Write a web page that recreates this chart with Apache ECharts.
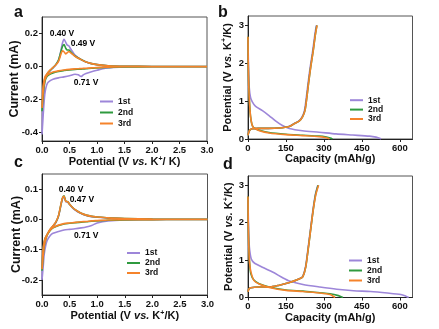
<!DOCTYPE html>
<html>
<head>
<meta charset="utf-8">
<script src="https://cdn.jsdelivr.net/npm/echarts@6/dist/echarts.min.js"></script>
<style>
  html, body { margin: 0; padding: 0; background: #fff; }
  #chart { width: 439px; height: 329px; }
</style>
</head>
<body>
<div id="chart"></div>
<script>
// ---------- Cyclic voltammetry, electrode a (E in V, I in mA) ----------
const cvA_cathE = [3.0, 2.5, 2.0, 1.5, 1.3, 1.15, 1.0, 0.9, 0.8, 0.75, 0.71, 0.66, 0.6, 0.5, 0.4, 0.3, 0.2, 0.15, 0.1, 0.07, 0.05, 0.03, 0.015, 0.0];
const cvA_1st_cath = [0, 0, -0.001, -0.002, -0.005, -0.01, -0.022, -0.031, -0.042, -0.05, -0.06, -0.05, -0.046, -0.055, -0.062, -0.068, -0.076, -0.085, -0.1, -0.13, -0.17, -0.25, -0.33, -0.41];
const cvA_2nd_cath = [0, 0, -0.001, -0.002, -0.003, -0.005, -0.008, -0.01, -0.013, -0.014, -0.015, -0.016, -0.017, -0.02, -0.024, -0.029, -0.038, -0.045, -0.056, -0.072, -0.095, -0.14, -0.2, -0.27];
const cvA_3rd_cath = [0, 0, -0.001, -0.001, -0.002, -0.004, -0.006, -0.008, -0.01, -0.011, -0.012, -0.013, -0.014, -0.017, -0.021, -0.026, -0.033, -0.04, -0.05, -0.065, -0.085, -0.125, -0.18, -0.25];
const cvA_anodE = [0, 0.01, 0.02, 0.04, 0.06, 0.1, 0.15, 0.2, 0.25, 0.3, 0.34, 0.37, 0.40, 0.43, 0.46, 0.49, 0.52, 0.56, 0.6, 0.7, 0.8, 0.9, 1.0, 1.2, 1.5, 2.0, 3.0];
const cvA_1st_anod = [-0.41, -0.3, -0.2, -0.12, -0.075, -0.045, -0.025, -0.008, 0.01, 0.036, 0.09, 0.14, 0.165, 0.148, 0.13, 0.125, 0.108, 0.088, 0.07, 0.045, 0.028, 0.018, 0.012, 0.005, 0.002, 0.001, 0];
const cvA_2nd_anod = [-0.27, -0.2, -0.14, -0.09, -0.065, -0.042, -0.022, -0.006, 0.012, 0.04, 0.085, 0.12, 0.133, 0.112, 0.1, 0.1, 0.09, 0.076, 0.064, 0.044, 0.028, 0.018, 0.012, 0.005, 0.002, 0.001, 0];
const cvA_3rd_anod = [-0.25, -0.18, -0.12, -0.08, -0.058, -0.038, -0.02, -0.005, 0.01, 0.032, 0.07, 0.095, 0.09, 0.077, 0.085, 0.091, 0.084, 0.074, 0.062, 0.044, 0.028, 0.018, 0.012, 0.005, 0.002, 0.001, 0];
// peak notes: [text, potential, current]
const cvA_notes = [['0.40 V', 0.40, 0.165], ['0.49 V', 0.49, 0.125], ['0.71 V', 0.71, -0.06]];

// ---------- Cyclic voltammetry, electrode c ----------
const cvC_cathE = [3.0, 2.5, 2.0, 1.5, 1.2, 1.0, 0.9, 0.8, 0.71, 0.6, 0.5, 0.4, 0.3, 0.2, 0.15, 0.1, 0.07, 0.04, 0.02, 0.0];
const cvC_1st_cath = [0, 0, -0.001, -0.002, -0.005, -0.012, -0.02, -0.025, -0.028, -0.031, -0.033, -0.035, -0.04, -0.046, -0.053, -0.067, -0.084, -0.116, -0.16, -0.2];
const cvC_2nd_cath = [0, 0, -0.001, -0.002, -0.003, -0.005, -0.006, -0.008, -0.009, -0.011, -0.013, -0.015, -0.02, -0.028, -0.036, -0.05, -0.065, -0.09, -0.125, -0.17];
const cvC_3rd_cath = [0, 0, -0.001, -0.001, -0.002, -0.004, -0.005, -0.007, -0.008, -0.01, -0.012, -0.014, -0.019, -0.027, -0.035, -0.049, -0.064, -0.088, -0.122, -0.165];
const cvC_anodE = [0, 0.01, 0.02, 0.04, 0.06, 0.1, 0.15, 0.2, 0.25, 0.3, 0.34, 0.37, 0.40, 0.43, 0.47, 0.5, 0.55, 0.6, 0.7, 0.8, 0.9, 1.0, 1.2, 1.5, 2.0, 3.0];
const cvC_1st_anod = [-0.2, -0.14, -0.105, -0.078, -0.063, -0.049, -0.034, -0.023, -0.011, 0.011, 0.044, 0.067, 0.074, 0.059, 0.056, 0.049, 0.039, 0.031, 0.02, 0.013, 0.009, 0.007, 0.004, 0.002, 0.001, 0];
const cvC_2nd_anod = [-0.17, -0.13, -0.1, -0.075, -0.062, -0.048, -0.033, -0.022, -0.01, 0.012, 0.046, 0.07, 0.078, 0.061, 0.058, 0.05, 0.04, 0.032, 0.021, 0.014, 0.01, 0.008, 0.005, 0.003, 0.001, 0];
const cvC_3rd_anod = [-0.165, -0.128, -0.098, -0.074, -0.061, -0.047, -0.032, -0.021, -0.009, 0.013, 0.047, 0.07, 0.076, 0.06, 0.058, 0.05, 0.04, 0.032, 0.021, 0.014, 0.01, 0.008, 0.005, 0.003, 0.001, 0];
const cvC_notes = [['0.40 V', 0.40, 0.078], ['0.47 V', 0.47, 0.058], ['0.71 V', 0.71, -0.028]];

// ---------- Galvanostatic profiles, electrode b (capacity mAh/g, potential V) ----------
const gcdB_1st_disQ = [0, 2, 5, 10, 17, 30, 57, 83, 110, 136, 163, 215, 281, 348, 414, 480, 506, 520, 526];
const gcdB_1st_disV = [2.65, 1.9, 1.35, 1.1, 0.98, 0.86, 0.75, 0.62, 0.47, 0.355, 0.28, 0.22, 0.18, 0.135, 0.105, 0.075, 0.05, 0.02, 0];
const gcdB_2nd_disQ = [0, 1, 3, 6, 10, 15, 20, 30, 45, 83, 150, 215, 281, 310, 325, 334];
const gcdB_2nd_disV = [2.7, 2.0, 1.4, 0.95, 0.6, 0.4, 0.32, 0.27, 0.23, 0.17, 0.125, 0.1, 0.075, 0.05, 0.025, 0];
const gcdB_3rd_disQ = [0, 1, 3, 6, 10, 15, 20, 30, 45, 83, 150, 215, 281, 305, 316, 322];
const gcdB_3rd_disV = [2.7, 2.0, 1.4, 0.95, 0.6, 0.4, 0.32, 0.27, 0.22, 0.16, 0.115, 0.09, 0.062, 0.04, 0.02, 0];
const gcdB_chgV = [0.1, 0.18, 0.24, 0.27, 0.28, 0.28, 0.29, 0.33, 0.4, 0.47, 0.58, 0.75, 1.02, 1.46, 1.91, 2.35, 2.75, 3.0];
const gcdB_1st_chgQ = [0, 3, 8, 17, 40, 80, 122, 161, 180, 200, 213, 223, 229, 237, 246, 256, 264, 270];
const gcdB_2nd_chgQ = [0, 3, 8, 17, 40, 80, 123, 163, 182, 202, 215, 225, 231, 239, 248, 258, 266, 272];
const gcdB_3rd_chgQ = [0, 3, 8, 17, 40, 80, 123, 163, 182, 202, 215, 225, 231, 239, 248, 258, 266, 273];

// ---------- Galvanostatic profiles, electrode d ----------
const gcdD_1st_disQ = [0, 2, 4, 7, 13, 24, 57, 97, 137, 164, 217, 284, 351, 417, 484, 551, 604, 624, 635];
const gcdD_1st_disV = [2.65, 1.9, 1.5, 1.25, 1.03, 0.93, 0.81, 0.68, 0.53, 0.44, 0.35, 0.28, 0.22, 0.18, 0.16, 0.12, 0.08, 0.035, 0];
const gcdD_2nd_disQ = [0, 1, 3, 6, 11, 24, 44, 84, 151, 217, 284, 324, 357, 375];
const gcdD_2nd_disV = [2.7, 2.0, 1.4, 0.95, 0.64, 0.46, 0.37, 0.28, 0.2, 0.17, 0.125, 0.1, 0.05, 0];
const gcdD_3rd_disQ = [0, 1, 3, 6, 11, 24, 44, 84, 151, 217, 284, 324, 340, 344];
const gcdD_3rd_disV = [2.7, 2.0, 1.4, 0.95, 0.7, 0.45, 0.36, 0.27, 0.19, 0.16, 0.12, 0.08, 0.02, 0];
const gcdD_chgV = [0.15, 0.22, 0.26, 0.28, 0.28, 0.33, 0.4, 0.5, 0.56, 0.81, 1.25, 1.78, 2.31, 2.75, 3.0];
const gcdD_1st_chgQ = [0, 3, 11, 44, 84, 124, 164, 203, 216, 227, 236, 246, 256, 266, 276];
const gcdD_2nd_chgQ = [0, 3, 11, 44, 84, 124, 164, 204, 217, 228, 237, 247, 257, 267, 277];
const gcdD_3rd_chgQ = [0, 3, 11, 44, 84, 124, 164, 204, 217, 228, 237, 247, 257, 268, 279];

// ---------- Axis ticks ----------
const cvPotTicks = [0, 0.5, 1.0, 1.5, 2.0, 2.5, 3.0];
const cvA_curTicks = [-0.4, -0.2, 0.0, 0.2];
const cvC_curTicks = [-0.2, -0.1, 0.0, 0.1];
const capTicks = [0, 150, 300, 450, 600];
const potTicks = [0, 1, 2, 3];
const cycles = ['1st', '2nd', '3rd'];

// ---------- styling ----------
const FONT = '"Liberation Sans", Arial, Helvetica, sans-serif';
const COLORS = { '1st': '#9d86d9', '2nd': '#2f9a3f', '3rd': '#f5832b' };

const pairs = (xs, ys) => xs.map((x, i) => [x, ys[i]]);
const loop = (ce, ci, ae, ai) => pairs(ce, ci).concat(pairs(ae, ai));

function curve(name, data, gi) {
  const c = COLORS[name];
  return {
    type: 'line', name, xAxisIndex: gi, yAxisIndex: gi, data,
    symbol: 'none', showSymbol: false, smooth: 0.25,
    lineStyle: { color: c, width: 1.6 }, itemStyle: { color: c },
    animation: false, emphasis: { disabled: true }
  };
}

// text notes anchored at the peak they describe
function notes(list, offsets, gi) {
  return {
    type: 'scatter', name: 'notes' + gi, xAxisIndex: gi, yAxisIndex: gi,
    symbol: 'circle', symbolSize: 1, itemStyle: { color: 'rgba(0,0,0,0)' },
    animation: false, silent: true, z: 5,
    label: { show: true, position: 'inside', formatter: '{b}', color: '#000', opacity: 1,
             textBorderWidth: 0, fontFamily: FONT, fontWeight: 'bold', fontSize: 8.5 },
    data: list.map((n, i) => ({ value: [n[1], n[2]], name: n[0], label: { offset: offsets[i], color: '#000' } }))
  };
}

function richName(size) {
  const base = { fontFamily: FONT, fontWeight: 'bold', fontSize: size, color: '#111', lineHeight: size + 2 };
  return {
    fontFamily: FONT, fontWeight: 'bold', fontSize: size, color: '#111',
    rich: {
      i: Object.assign({}, base, { fontStyle: 'italic' }),
      sup: Object.assign({}, base, { fontSize: Math.round(size * 0.62), verticalAlign: 'top', lineHeight: size + 2 })
    }
  };
}

function axis(gi, opts) {
  return Object.assign({
    type: 'value', gridIndex: gi, nameLocation: 'middle',
    axisLine: { show: true, onZero: false, lineStyle: { color: '#222', width: 1 } },
    axisTick: { show: true, inside: false, length: 3, lineStyle: { color: '#222' }, customValues: opts.ticks },
    axisLabel: { color: '#111', fontFamily: FONT, fontWeight: 'bold', fontSize: 9.5, margin: 4,
                 customValues: opts.ticks, formatter: opts.fmt },
    splitLine: { show: false }
  }, opts.extra);
}

const f1 = v => Number(v).toFixed(1);
const f0 = v => String(Math.round(v));

const grids = [
  { left: 42, top: 17, width: 165, height: 124 },
  { left: 248, top: 16, width: 164.5, height: 123 },
  { left: 42, top: 174, width: 165.5, height: 121 },
  { left: 248, top: 176, width: 164.5, height: 121.5 }
].map(g => Object.assign(g, { show: true, borderColor: '#555', borderWidth: 1, containLabel: false }));

const xAxes = [
  axis(0, { ticks: cvPotTicks, fmt: f1, extra: { min: 0, max: 3, name: 'Potential (V {i|vs.} K{sup|+}/ K)', nameGap: 7, nameTextStyle: richName(11) } }),
  axis(1, { ticks: capTicks, fmt: f0, extra: { min: 0, max: 650, name: 'Capacity (mAh/g)', nameGap: 7.5, nameTextStyle: richName(11) } }),
  axis(2, { ticks: cvPotTicks, fmt: f1, extra: { min: 0, max: 3, name: 'Potential (V {i|vs.} K{sup|+}/K)', nameGap: 9, nameTextStyle: richName(11) } }),
  axis(3, { ticks: capTicks, fmt: f0, extra: { min: 0, max: 650, name: 'Capacity (mAh/g)', nameGap: 10, nameTextStyle: richName(11) } })
];
const yAxes = [
  axis(0, { ticks: cvA_curTicks, fmt: f1, extra: { min: -0.45, max: 0.3, name: 'Current (mA)', nameGap: 21, nameMoveOverlap: false, nameTextStyle: richName(12.5) } }),
  axis(1, { ticks: potTicks, fmt: f0, extra: { min: 0, max: 3.25, name: 'Potential (V {i|vs.} K{sup|+}/K)', nameGap: 14, nameMoveOverlap: false, nameTextStyle: richName(11) } }),
  axis(2, { ticks: cvC_curTicks, fmt: f1, extra: { min: -0.25, max: 0.15, name: 'Current (mA)', nameGap: 19, nameMoveOverlap: false, nameTextStyle: richName(12.5) } }),
  axis(3, { ticks: potTicks, fmt: f0, extra: { min: 0, max: 3.25, name: 'Potential (V {i|vs.} K{sup|+}/K)', nameGap: 12.5, nameMoveOverlap: false, nameTextStyle: richName(11) } })
];

const series = [
  curve('1st', loop(cvA_cathE, cvA_1st_cath, cvA_anodE, cvA_1st_anod), 0),
  curve('2nd', loop(cvA_cathE, cvA_2nd_cath, cvA_anodE, cvA_2nd_anod), 0),
  curve('3rd', loop(cvA_cathE, cvA_3rd_cath, cvA_anodE, cvA_3rd_anod), 0),
  notes(cvA_notes, [[-2, -6], [14, -2], [5, 6]], 0),

  curve('1st', pairs(gcdB_1st_disQ, gcdB_1st_disV), 1),
  curve('1st', pairs(gcdB_1st_chgQ, gcdB_chgV), 1),
  curve('2nd', pairs(gcdB_2nd_disQ, gcdB_2nd_disV), 1),
  curve('2nd', pairs(gcdB_2nd_chgQ, gcdB_chgV), 1),
  curve('3rd', pairs(gcdB_3rd_disQ, gcdB_3rd_disV), 1),
  curve('3rd', pairs(gcdB_3rd_chgQ, gcdB_chgV), 1),

  curve('1st', loop(cvC_cathE, cvC_1st_cath, cvC_anodE, cvC_1st_anod), 2),
  curve('2nd', loop(cvC_cathE, cvC_2nd_cath, cvC_anodE, cvC_2nd_anod), 2),
  curve('3rd', loop(cvC_cathE, cvC_3rd_cath, cvC_anodE, cvC_3rd_anod), 2),
  notes(cvC_notes, [[7, -6], [14, -2], [5, 8]], 2),

  curve('1st', pairs(gcdD_1st_disQ, gcdD_1st_disV), 3),
  curve('1st', pairs(gcdD_1st_chgQ, gcdD_chgV), 3),
  curve('2nd', pairs(gcdD_2nd_disQ, gcdD_2nd_disV), 3),
  curve('2nd', pairs(gcdD_2nd_chgQ, gcdD_chgV), 3),
  curve('3rd', pairs(gcdD_3rd_disQ, gcdD_3rd_disV), 3),
  curve('3rd', pairs(gcdD_3rd_chgQ, gcdD_chgV), 3)
];

function legendAt(left, top, rowH) {
  return {
    orient: 'vertical', left, top, padding: 0, data: cycles, icon: 'rect',
    itemWidth: 13, itemHeight: 2, itemGap: 0, selectedMode: false,
    textStyle: { fontFamily: FONT, fontWeight: 'bold', fontSize: 8.5, color: '#111', lineHeight: rowH }
  };
}

function letter(t, x, y) {
  return { type: 'text', x, y, style: { text: t, font: 'bold 16px ' + FONT, fill: '#111', textVerticalAlign: 'bottom' } };
}

const chart = echarts.init(document.getElementById('chart'), null, { renderer: 'canvas' });
chart.setOption({
  backgroundColor: '#fff',
  animation: false,
  grid: grids,
  xAxis: xAxes,
  yAxis: yAxes,
  legend: [legendAt(100, 96, 11), legendAt(350, 95.5, 9.4), legendAt(127, 248, 10), legendAt(349, 255.5, 10)],
  graphic: [letter('a', 14, 21), letter('b', 218, 21), letter('c', 14, 171), letter('d', 223, 173)],
  series
});
</script>
</body>
</html>
